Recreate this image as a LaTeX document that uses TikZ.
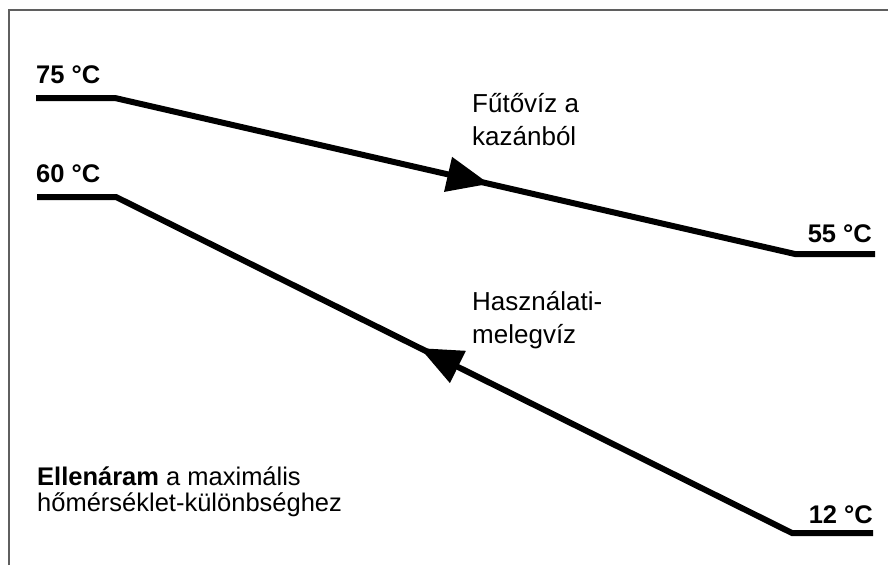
\documentclass[tikz,border=0pt]{standalone}
\usepackage{fontspec}
\setmainfont{Liberation Sans}
\usetikzlibrary{decorations.markings}
\definecolor{frame_gray}{RGB}{95, 95, 95}
\tikzstyle{none}=[inner sep=0pt,minimum size=0pt]
\tikzstyle{pipe}=[line width=6pt,line join=miter]
\tikzstyle{frm}=[line width=1.3pt,draw=frame_gray]
\tikzstyle{tl}=[inner sep=0pt,font=\fontsize{25.5}{25.5}\selectfont\bfseries]
\tikzstyle{txt}=[inner sep=0pt,align=left,anchor=base west,font=\fontsize{26}{33}\selectfont]
\tikzstyle{flow}=[postaction={decorate},decoration={markings,
  mark=at position 0.55 with {\fill (0pt,0pt) -- (-42pt,18pt) -- (-42pt,-18pt) -- cycle;}}]

\begin{document}
\begin{tikzpicture}[x=1pt, y=-1pt]
    \useasboundingbox (0, 0) rectangle (888, 565);
    \node [style=none] (0) at (9, 565) {};
    \node [style=none] (1) at (9, 10) {};
    \node [style=none] (2) at (888, 10) {};
    \node [style=none] (3) at (36, 98) {};
    \node [style=none] (4) at (115, 98) {};
    \node [style=none] (5) at (795, 254) {};
    \node [style=none] (6) at (875, 254) {};
    \node [style=none] (7) at (37, 197) {};
    \node [style=none] (8) at (116, 197) {};
    \node [style=none] (9) at (792, 533) {};
    \node [style=none] (10) at (873, 533) {};
    \node [style=tl, anchor=base west] (11) at (36, 83) {75 °C};
    \node [style=tl, anchor=base west] (12) at (36, 182) {60 °C};
    \node [style=tl, anchor=base east] (13) at (872, 242) {55 °C};
    \node [style=tl, anchor=base east] (14) at (873, 523) {12 °C};
    \node [style=txt] (15) at (472, 145) {Fűtővíz a\\kazánból};
    \node [style=txt] (16) at (472, 343) {Használati-\\melegvíz};
    \node [style=txt, font=\fontsize{25.5}{26}\selectfont] (17) at (37, 511) {\textbf{Ellenáram} a maximális\\hőmérséklet-különbséghez};
    \draw [style=frm] (0.center) to (1.center) to (2.center);
    \draw [style=pipe] (3.center) to (4.center) to (5.center) to (6.center);
    \draw [style=pipe] (7.center) to (8.center) to (9.center) to (10.center);
    \path [style=flow] (4.center) to (5.center);
    \path [style=flow] (9.center) to (8.center);
\end{tikzpicture}
\end{document}
